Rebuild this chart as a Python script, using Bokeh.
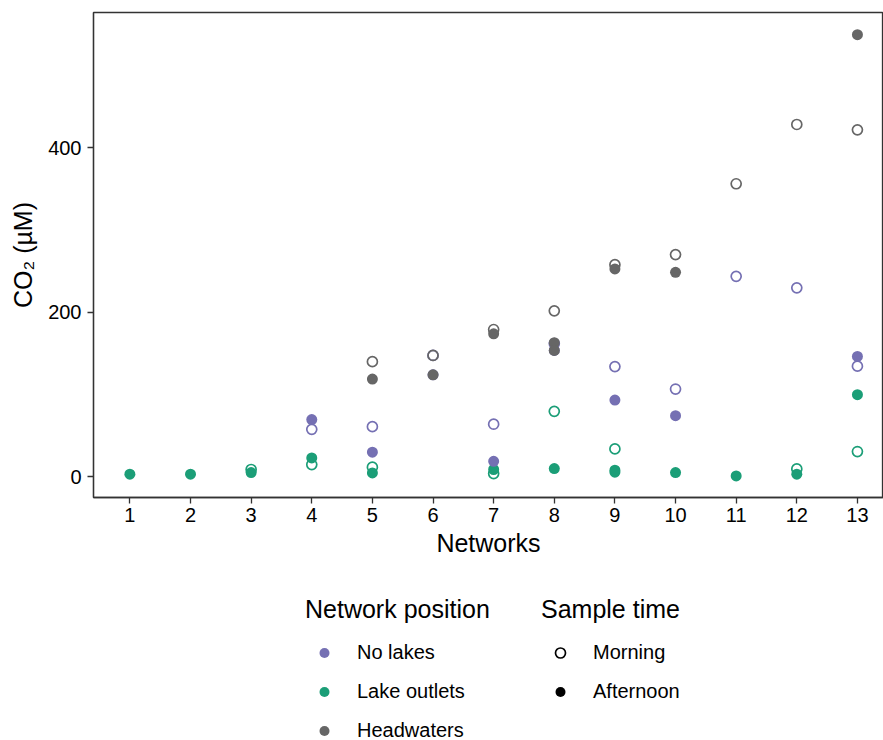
from bokeh.plotting import figure
from bokeh.layouts import column
from bokeh.models import Range1d, Legend, LegendItem, FixedTicker
from bokeh.embed import file_html
from bokeh.resources import INLINE

# Category axis and ticks
networks = list(range(1, 14))
y_ticks = [0, 200, 400]

# CO2 (µM) per network, by network position and sample time
nolakes_morning_net = [4, 5, 6, 7, 8, 9, 10, 11, 12, 13]
nolakes_morning_co2 = [57.8, 61, 147.5, 64, 162, 134, 106.7, 243.6, 229.6, 134.5]
nolakes_afternoon_net = [4, 5, 6, 7, 8, 9, 10, 13]
nolakes_afternoon_co2 = [69.6, 30, 124, 19, 153.6, 93.3, 74.4, 146.3]

outlets_morning_net = [3, 4, 5, 7, 8, 9, 12, 13]
outlets_morning_co2 = [9, 15, 11.8, 4, 79.6, 34, 9.7, 30.8]
outlets_afternoon_net = [1, 2, 3, 4, 5, 7, 8, 9, 9, 10, 11, 12, 13]
outlets_afternoon_co2 = [3.3, 3.3, 5.3, 23, 4.8, 9, 10.2, 8.1, 5.7, 5.3, 1.2, 3.3, 99.9]

head_morning_net = [5, 6, 7, 8, 9, 10, 11, 12, 13]
head_morning_co2 = [140, 147.5, 179, 201.7, 257.8, 270, 356, 428, 421.5]
head_afternoon_net = [5, 6, 7, 8, 8, 9, 10, 13]
head_afternoon_co2 = [118.8, 124, 173.8, 163, 153.6, 252.6, 248.5, 537]

# Legend entries
position_labels = ["No lakes", "Lake outlets", "Headwaters"]
time_labels = ["Morning", "Afternoon"]

PURPLE = "#7570B3"
GREEN = "#1B9E77"
GREY = "#666666"
FONT = "Liberation Sans"
AXIS_COLOR = "#333333"
TEXT_SIZE = "20px"
TITLE_SIZE = "25px"

MAIN_H = 575
KEY_H = 740 - MAIN_H

p = figure(width=883, height=MAIN_H,
           x_range=Range1d(0.4, 13.43), y_range=Range1d(-25, 564),
           output_backend="svg", toolbar_location=None,
           min_border_left=93, min_border_right=0,
           min_border_top=12, min_border_bottom=MAIN_H - 497)
p.xgrid.visible = False
p.ygrid.visible = False
p.outline_line_color = AXIS_COLOR
p.outline_line_width = 1.3
p.background_fill_color = "white"
p.border_fill_color = "white"

p.xaxis.ticker = FixedTicker(ticks=networks)
p.yaxis.ticker = FixedTicker(ticks=y_ticks)
p.xaxis.axis_label = "Networks"
p.yaxis.axis_label = "CO₂ (µM)"
for ax in (p.xaxis[0], p.yaxis[0]):
    ax.major_tick_out = 6
    ax.major_tick_in = 0
    ax.minor_tick_out = 0
    ax.minor_tick_in = 0
    ax.axis_line_color = AXIS_COLOR
    ax.axis_line_width = 1.3
    ax.major_tick_line_color = AXIS_COLOR
    ax.major_tick_line_width = 1.3
    ax.major_label_text_font = FONT
    ax.major_label_text_font_size = TEXT_SIZE
    ax.major_label_text_color = "black"
    ax.axis_label_text_font = FONT
    ax.axis_label_text_font_size = TITLE_SIZE
    ax.axis_label_text_font_style = "normal"
    ax.axis_label_text_color = "black"
p.xaxis.major_label_standoff = 4
p.yaxis.major_label_standoff = 6
p.xaxis.axis_label_standoff = 4
p.yaxis.axis_label_standoff = 8

OPEN_SIZE = 10
OPEN_WIDTH = 1.7
FILLED_SIZE = 11


def open_pts(fig, xs, ys, color):
    return fig.scatter(xs, ys, marker="circle", size=OPEN_SIZE, fill_color=None,
                       line_color=color, line_width=OPEN_WIDTH)


def filled_pts(fig, xs, ys, color):
    return fig.scatter(xs, ys, marker="circle", size=FILLED_SIZE, fill_color=color,
                       line_color=None)


open_pts(p, outlets_morning_net, outlets_morning_co2, GREEN)
filled_pts(p, outlets_afternoon_net, outlets_afternoon_co2, GREEN)
open_pts(p, nolakes_morning_net, nolakes_morning_co2, PURPLE)
filled_pts(p, nolakes_afternoon_net, nolakes_afternoon_co2, PURPLE)
open_pts(p, head_morning_net, head_morning_co2, GREY)
filled_pts(p, head_afternoon_net, head_afternoon_co2, GREY)

# Key panel under the chart: two titled legends side by side.
# Its frame is aligned with the chart frame (left edge at x = 93 px).
key = figure(width=883, height=KEY_H, x_range=Range1d(0, 1), y_range=Range1d(0, 1),
             output_backend="svg", toolbar_location=None, min_border=0)
key.axis.visible = False
key.xgrid.visible = False
key.ygrid.visible = False
key.outline_line_color = None
key.background_fill_color = "white"
key.border_fill_color = "white"

# key glyph renderers; their single anchor point lies outside the key's view
off = ([-5], [-5])
key_pos = [filled_pts(key, *off, c) for c in (PURPLE, GREEN, GREY)]
key_time = [open_pts(key, *off, "black"), filled_pts(key, *off, "black")]


def make_legend(title, labels, renderers, x, y):
    return Legend(items=[LegendItem(label=l, renderers=[r])
                         for l, r in zip(labels, renderers)],
                  title=title, location=(x, y),
                  orientation="vertical", padding=0, margin=0,
                  border_line_color=None, background_fill_alpha=0,
                  glyph_width=38, glyph_height=25, label_height=25,
                  label_standoff=14, spacing=14, title_standoff=16,
                  label_text_font=FONT, label_text_font_size=TEXT_SIZE,
                  label_text_color="black",
                  title_text_font=FONT, title_text_font_size=TITLE_SIZE,
                  title_text_font_style="normal", title_text_color="black")


key.add_layout(make_legend("Network position", position_labels, key_pos, 212, -3))
key.add_layout(make_legend("Sample time", time_labels, key_time, 448, 36))

layout = column(p, key, spacing=0)
open("out.html", "w").write(file_html(layout, INLINE))
